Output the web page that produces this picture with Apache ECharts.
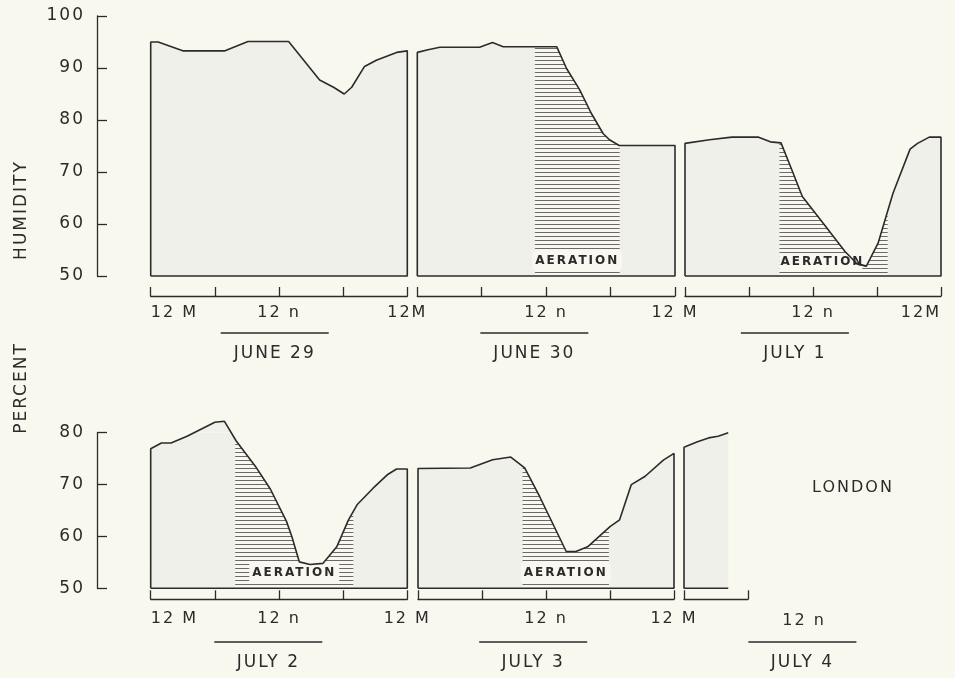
<!DOCTYPE html>
<html><head><meta charset="utf-8">
<script src="https://cdn.jsdelivr.net/npm/echarts@6/dist/echarts.min.js"></script>
<style>html,body{margin:0;padding:0;background:#f9f8ee;}#c{width:955px;height:678px;}</style>
</head><body><div id="c"></div>
<script>
// ---- data (hours after midnight, percent relative humidity) ----
const dates = ['JUNE 29', 'JUNE 30', 'JULY 1', 'JULY 2', 'JULY 3', 'JULY 4'];
const hoursJun29 = [0, 0.7, 3.0, 6.95, 9.1, 12.9, 15.8, 17.1, 18.1, 18.8, 20.0, 21.1, 23.0, 24];
const rhJun29    = [95, 95, 93.3, 93.3, 95.1, 95.1, 87.7, 86.3, 85, 86.3, 90.3, 91.5, 93.0, 93.3];
const hoursJun30 = [0, 1.0, 2.1, 5.8, 7.0, 8.0, 12.98, 13.9, 15.1, 16.2, 17.3, 17.9, 18.8, 24];
const rhJun30    = [93.0, 93.5, 94.0, 94.0, 94.9, 94.1, 94.1, 89.9, 85.9, 81.3, 77.4, 76.2, 75.1, 75.1];
const hoursJul1  = [0, 2.3, 4.4, 6.9, 8.0, 9.0, 9.9, 11.0, 12.7, 15.0, 16.1, 17.0, 18.1, 19.5, 21.1, 21.8, 22.9, 24];
const rhJul1     = [75.5, 76.2, 76.7, 76.7, 75.8, 75.6, 71.0, 65.3, 60.8, 54.7, 52.4, 51.9, 56.3, 65.9, 74.4, 75.5, 76.7, 76.7];
const hoursJul2  = [0, 1.0, 1.9, 3.4, 6.0, 6.9, 8.0, 9.8, 11.2, 12.7, 13.2, 13.9, 14.9, 16.1, 17.4, 18.5, 19.3, 20.8, 22.2, 23.0, 24];
const rhJul2     = [76.9, 78.0, 78.0, 79.3, 82.0, 82.2, 78.4, 73.5, 69.1, 62.9, 60.0, 55.1, 54.6, 54.8, 58.0, 63.2, 66.1, 69.3, 72.0, 73.0, 73.0];
const hoursJul3  = [0, 4.9, 7.0, 8.7, 10.0, 11.4, 13.9, 14.8, 15.9, 18.0, 18.9, 20.0, 21.3, 23.0, 24];
const rhJul3     = [73.1, 73.2, 74.8, 75.3, 73.2, 67.7, 57.1, 57.1, 58.0, 61.9, 63.2, 70.0, 71.6, 74.7, 76.0];
const hoursJul4  = [0, 1.2, 2.3, 3.2, 4.15];
const rhJul4     = [77.2, 78.2, 79.0, 79.3, 80.0];
// aeration periods [start hour, end hour]; null = none
const aerJun29 = null;
const aerJun30 = [10.95, 18.85];
const aerJul1  = [8.85, 19.0];
const aerJul2  = [7.9, 18.95];
const aerJul3  = [9.8, 17.9];
const aerJul4  = null;
const yTicksTop = [50, 60, 70, 80, 90, 100];
const yTicksBottom = [50, 60, 70, 80];
const aerationLabel = 'AERATION';
const stationLabel = 'LONDON';
const yTitleA = 'PERCENT';
const yTitleB = 'HUMIDITY';

// ---- layout / style ----
const BG = '#f9f8ee', PANEL = '#f0f0ea', INK = '#2b2b2b';
const FONT = '"DejaVu Sans", sans-serif';
const dom = document.getElementById('c');
const chart = echarts.init(dom, null, {renderer: 'canvas', width: 955, height: 678});

const panels = [
  {h: hoursJun29, v: rhJun29, aer: aerJun29, grid: {left: 150.7, top: 16, width: 256.6, height: 260}, row: 0, showY: true, xMax: 24, minLab: '12 M', maxLab: '12M', close: true, dateAt: 11.6},
  {h: hoursJun30, v: rhJun30, aer: aerJun30, grid: {left: 417.3, top: 16, width: 257.7, height: 260}, row: 0, showY: false, xMax: 24, minLab: '', maxLab: '12 M', close: true, dateAt: 10.9},
  {h: hoursJul1, v: rhJul1, aer: aerJul1, grid: {left: 685, top: 16, width: 256, height: 260}, row: 0, showY: false, xMax: 24, minLab: '', maxLab: '12M', close: true, alignMax: 'right', leftLabel: true, dateAt: 10.3},
  {h: hoursJul2, v: rhJul2, aer: aerJul2, grid: {left: 150.7, top: 432.7, width: 256.6, height: 155.6}, row: 1, showY: true, xMax: 24, minLab: '12 M', maxLab: '12 M', close: true, dateAt: 11.0},
  {h: hoursJul3, v: rhJul3, aer: aerJul3, grid: {left: 418, top: 432.7, width: 256, height: 155.6}, row: 1, showY: false, xMax: 24, minLab: '', maxLab: '12 M', close: true, dateAt: 10.8},
  {h: hoursJul4, v: rhJul4, aer: aerJul4, grid: {left: 684, top: 432.7, width: 64, height: 155.6}, row: 1, showY: false, xMax: 6, minLab: '', maxLab: '', close: false, dateAt: 11.1}
];
const rows = [
  {yMax: 100, ticks: yTicksTop, xOffset: 20, labMargin: 9},
  {yMax: 80, ticks: yTicksBottom, xOffset: 11, labMargin: 12}
];

function hatchPattern() {
  const c = document.createElement('canvas');
  c.width = 8; c.height = 4;
  const g = c.getContext('2d');
  g.fillStyle = '#f8f7f0'; g.fillRect(0, 0, 8, 4);
  g.fillStyle = '#6a6a6a'; g.fillRect(0, 0, 8, 1);
  return {image: c, repeat: 'repeat'};
}
const HATCH = hatchPattern();

const grids = [], xAxes = [], yAxes = [], series = [];
panels.forEach((p, i) => {
  const r = rows[p.row];
  grids.push(Object.assign({containLabel: false}, p.grid));
  xAxes.push({
    gridIndex: i, type: 'value', min: 0, max: p.xMax, interval: 6, offset: r.xOffset,
    axisLine: {show: true, onZero: false, lineStyle: {color: INK, width: 1.3}},
    axisTick: {show: true, inside: true, length: 9, lineStyle: {color: INK, width: 1.3}},
    splitLine: {show: false},
    axisLabel: {
      margin: r.labMargin, color: INK, fontSize: 16, fontFamily: FONT,
      showMinLabel: true, showMaxLabel: true,
      alignMinLabel: 'left', alignMaxLabel: p.alignMax || 'center',
      formatter: v => v === 0 ? p.minLab : (v === 12 ? '12 n' : (v === 24 ? p.maxLab : ''))
    }
  });
  yAxes.push({
    gridIndex: i, type: 'value', min: 50, max: r.yMax, interval: 10, show: p.showY, offset: 53.7,
    axisLine: {show: true, onZero: false, lineStyle: {color: INK, width: 1.3}},
    axisTick: {show: true, inside: true, length: 10, lineStyle: {color: INK, width: 1.3}},
    splitLine: {show: false},
    axisLabel: {margin: 12, color: INK, fontSize: 17, fontFamily: FONT}
  });
  const pts = p.h.map((h, k) => [h, p.v[k]]);
  const last = p.h[p.h.length - 1];
  const outline = p.close
    ? [[0, 50]].concat(pts, [[last, 50], [0, 50]])
    : [[last, 50], [0, 50]].concat(pts);
  // under-curve panel fill
  series.push({type: 'line', xAxisIndex: i, yAxisIndex: i, data: pts, symbol: 'none', silent: true, animation: false,
    clip: false, z: 1, lineStyle: {opacity: 0}, areaStyle: {color: PANEL, opacity: 1, origin: 'start'}});
  if (p.aer) {
    const aer = p.aer;
    // hatched aeration band
    series.push({type: 'custom', xAxisIndex: i, yAxisIndex: i, data: [aer], silent: true, animation: false, z: 2,
      renderItem: (params, api) => {
        const a = api.coord([api.value(0), 50]);
        const b = api.coord([api.value(1), r.yMax]);
        return {type: 'rect', shape: {x: a[0], y: b[1] + 2, width: b[0] - a[0], height: a[1] - b[1] - 3}, style: {fill: HATCH}};
      }});
    // mask above the curve
    series.push({type: 'line', xAxisIndex: i, yAxisIndex: i, data: pts, symbol: 'none', silent: true, animation: false,
      clip: true, z: 3, lineStyle: {opacity: 0}, areaStyle: {color: BG, opacity: 1, origin: 'end'}});
    // label
    series.push({type: 'custom', xAxisIndex: i, yAxisIndex: i, data: [aer], silent: true, animation: false, z: 4,
      renderItem: (params, api) => {
        const s = api.value(0), e = api.value(1);
        if (p.leftLabel) {
          const pos = api.coord([s, 52.7]);
          let mi = 0; p.v.forEach((v, k) => { if (v < p.v[mi]) mi = k; });
          const m = api.coord([p.h[mi], p.v[mi]]);
          return {type: 'group', children: [
            {type: 'text', x: pos[0], y: pos[1], style: {text: aerationLabel, fill: INK, font: 'bold 12px ' + FONT,
              align: 'left', verticalAlign: 'middle', backgroundColor: '#f8f7f0', padding: [2, 14, 2, 1]}},
            {type: 'polyline', shape: {points: [[m[0] - 12, pos[1] + 1], [m[0] - 7, pos[1] + 3], [m[0], m[1]]]}, style: {stroke: INK, lineWidth: 1.2, fill: null}}
          ]};
        }
        const pos = api.coord([(s + e) / 2, 53]);
        return {type: 'text', x: pos[0], y: pos[1], style: {text: aerationLabel, fill: INK, font: 'bold 12px ' + FONT,
          align: 'center', verticalAlign: 'middle', backgroundColor: '#f8f7f0', padding: [3, 11]}};
      }});
  }
  // outline
  series.push({type: 'line', xAxisIndex: i, yAxisIndex: i, data: outline, symbol: 'none', silent: true, animation: false,
    clip: false, z: 5, lineStyle: {color: INK, width: 1.6}});
});

chart.setOption({
  backgroundColor: BG,
  animation: false,
  grid: grids, xAxis: xAxes, yAxis: yAxes, series: series
});

// ---- date labels, underlines, titles ----
const rowText = [{line: 333, date: 354}, {line: 642, date: 663}];
const gfx = [];
panels.forEach((p, i) => {
  const c = chart.convertToPixel({gridIndex: i}, [p.dateAt, 50]);
  const rt = rowText[p.row];
  gfx.push({type: 'line', shape: {x1: c[0] - 54, y1: rt.line, x2: c[0] + 54, y2: rt.line}, style: {stroke: INK, lineWidth: 1.3}});
  gfx.push({type: 'text', x: c[0], y: rt.date, style: {text: dates[i], fill: INK, font: '17px ' + FONT, align: 'center', verticalAlign: 'middle'}});
  if (p.xMax < 12) {
    const n = chart.convertToPixel({xAxisIndex: i}, 12);
    gfx.push({type: 'text', x: n - 8, y: 621, style: {text: '12 n', fill: INK, font: '16px ' + FONT, align: 'center', verticalAlign: 'middle'}});
  }
});
gfx.push({type: 'text', x: 853, y: 488, style: {text: stationLabel, fill: INK, font: '16px ' + FONT, align: 'center', verticalAlign: 'middle'}});
gfx.push({type: 'text', x: 22, y: 210, rotation: Math.PI / 2, style: {text: yTitleB, fill: INK, font: '17px ' + FONT, align: 'center', verticalAlign: 'middle'}});
gfx.push({type: 'text', x: 22, y: 388, rotation: Math.PI / 2, style: {text: yTitleA, fill: INK, font: '17px ' + FONT, align: 'center', verticalAlign: 'middle'}});
chart.setOption({graphic: gfx});

// widen lettering like the drafted original
try {
  const zr = chart.getZr();
  zr.flush();
  dom.querySelectorAll('canvas').forEach(cv => { cv.getContext('2d').letterSpacing = '2px'; });
  zr.painter.refresh(true);
} catch (e) {}
</script></body></html>
